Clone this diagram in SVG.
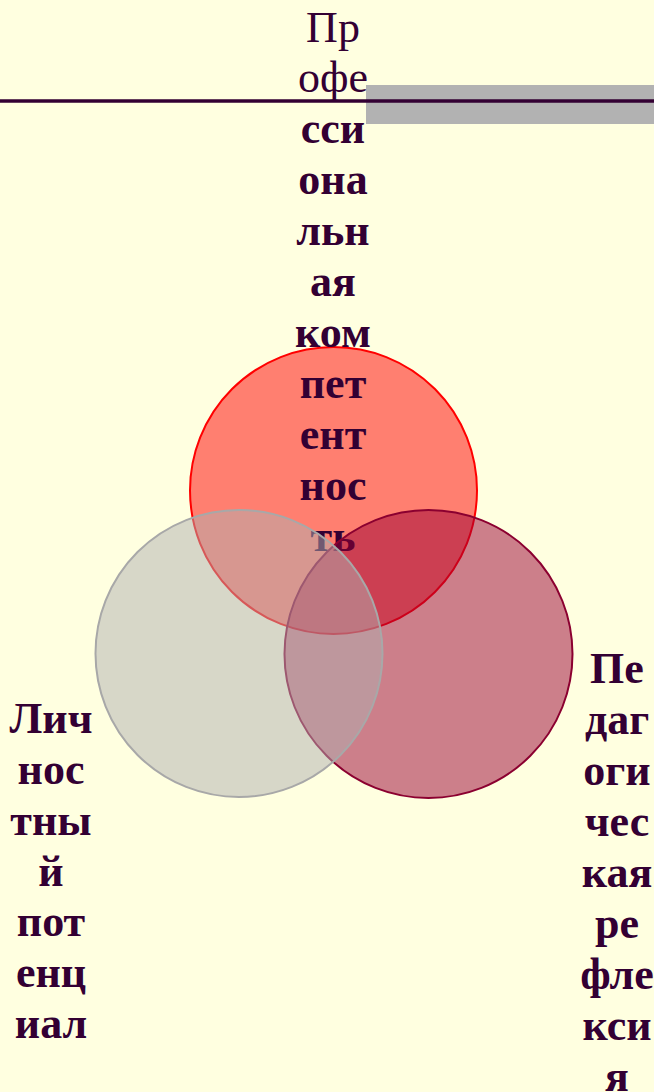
<svg xmlns="http://www.w3.org/2000/svg" width="654" height="1092" viewBox="0 0 654 1092">
<style>
.t{font-family:"Liberation Serif","Times New Roman",serif;font-size:44px;fill:#330033;text-anchor:middle;font-weight:bold}
.r{font-weight:normal}
</style>
<rect x="0" y="0" width="654" height="1092" fill="#FFFFE0"/>
<g id="header">
<rect x="366" y="85" width="288" height="39" fill="#B2B2B2"/>
<line x1="0" y1="101" x2="654" y2="101" stroke="#330033" stroke-width="3.5"/>
</g>
<g id="circle-professional">
<circle cx="333.5" cy="490.5" r="143.5" fill="#FF0000" fill-opacity="0.5" stroke="#FF0000" stroke-width="2"/>
</g>
<g id="label-professional">
<text class="t r" x="333" y="42">Пр</text>
<text class="t r" x="333" y="92">офе</text>
<text class="t" x="333" y="143">сси</text>
<text class="t" x="333" y="194">она</text>
<text class="t" x="333" y="245">льн</text>
<text class="t" x="333" y="296">ая</text>
<text class="t" x="333" y="347">ком</text>
<text class="t" x="333" y="398">пет</text>
<text class="t" x="333" y="449">ент</text>
<text class="t" x="333" y="500">нос</text>
<text class="t" x="333" y="551">ть</text>
</g>
<g id="circle-reflection">
<circle cx="428.5" cy="654" r="144" fill="#990033" fill-opacity="0.5" stroke="#8B0030" stroke-width="2"/>
</g>
<g id="circle-personal">
<circle cx="239" cy="653.5" r="143.5" fill="#B0B0B0" fill-opacity="0.5" stroke="#A8A8A8" stroke-width="2"/>
</g>
<g id="label-personal">
<text class="t" x="51" y="733">Лич</text>
<text class="t" x="51" y="784">нос</text>
<text class="t" x="51" y="835">тны</text>
<text class="t" x="51" y="886">й</text>
<text class="t" x="51" y="936">пот</text>
<text class="t" x="51" y="987">енц</text>
<text class="t" x="51" y="1038">иал</text>
</g>
<g id="label-reflection">
<text class="t" x="617" y="683">Пе</text>
<text class="t" x="617" y="734">даг</text>
<text class="t" x="617" y="785">оги</text>
<text class="t" x="617" y="836">чес</text>
<text class="t" x="617" y="887">кая</text>
<text class="t" x="617" y="938">ре</text>
<text class="t" x="617" y="989">фле</text>
<text class="t" x="617" y="1040">кси</text>
<text class="t" x="617" y="1091">я</text>
</g>
<g id="connectors"/>
</svg>
